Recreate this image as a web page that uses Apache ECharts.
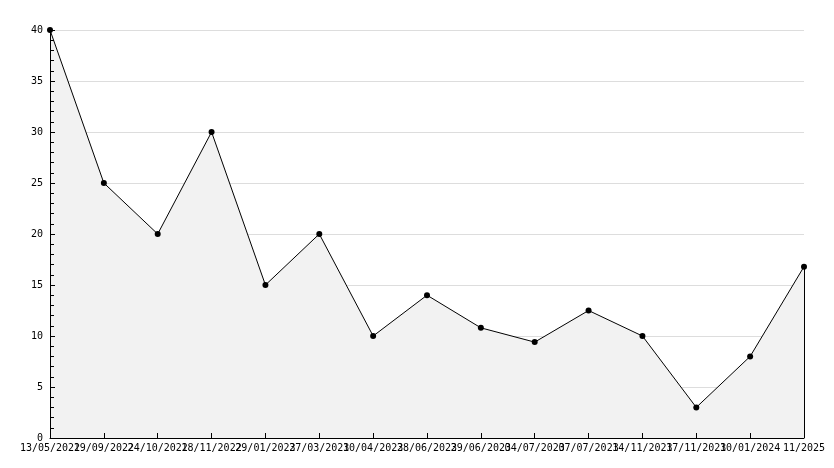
<!DOCTYPE html>
<html>
<head>
<meta charset="utf-8">
<script src="https://cdn.jsdelivr.net/npm/echarts@6/dist/echarts.min.js"></script>
<style>html,body{margin:0;padding:0;background:#fff}#c{width:834px;height:468px}</style>
</head>
<body>
<div id="c"></div>
<script>
const categories = ["13/05/2022","19/09/2022","24/10/2022","18/11/2022","29/01/2023","27/03/2023","10/04/2023","28/06/2023","29/06/2023","04/07/2023","07/07/2023","14/11/2023","17/11/2023","10/01/2024","11/2025"];
const values = [40, 25, 20, 30, 15, 20, 10, 14, 10.8, 9.4, 12.5, 10, 3, 8, 16.8];
const yTicks = { min: 0, max: 40, interval: 5 };

const chart = echarts.init(document.getElementById('c'), null, {renderer: 'canvas'});
const font = '"DejaVu Sans Mono", monospace';
const last = categories.length - 1;
chart.setOption({
  animation: false,
  backgroundColor: '#fff',
  grid: { left: 50, right: 30, top: 30, bottom: 30, containLabel: false },
  xAxis: {
    type: 'category',
    z: 3,
    data: categories,
    boundaryGap: false,
    axisLine: { lineStyle: { color: '#000', width: 1 } },
    axisTick: { show: true, inside: true, length: 5, lineStyle: { color: '#000' } },
    axisLabel: { interval: 0, hideOverlap: false, color: '#000', fontFamily: font, fontSize: 10, margin: 5 },
    splitLine: { show: false }
  },
  yAxis: [{
    type: 'value',
    z: 0,
    min: yTicks.min, max: yTicks.max, interval: yTicks.interval,
    axisLine: { show: false },
    axisTick: { show: false },
    axisLabel: { show: false },
    splitLine: { show: true, lineStyle: { color: '#dddddd', width: 1 } }
  }, {
    type: 'value',
    position: 'left',
    z: 3,
    min: yTicks.min, max: yTicks.max, interval: yTicks.interval,
    axisLine: { show: true, lineStyle: { color: '#000', width: 1 } },
    axisTick: { show: true, inside: true, length: 5, lineStyle: { color: '#000' } },
    minorTick: { show: true, splitNumber: 5, length: 4, lineStyle: { color: '#000' } },
    axisLabel: { color: '#000', fontFamily: font, fontSize: 10, margin: 7 },
    splitLine: { show: false }
  }],
  series: [{
    type: 'line',
    z: 1,
    yAxisIndex: 0,
    data: values,
    symbol: 'none',
    lineStyle: { width: 0 },
    areaStyle: { color: '#f2f2f2', opacity: 1 }
  }, {
    type: 'line',
    z: 4,
    yAxisIndex: 0,
    data: values,
    symbol: 'circle',
    symbolSize: 6,
    itemStyle: { color: '#000' },
    lineStyle: { color: '#000', width: 1 },
    markLine: {
      silent: true,
      symbol: 'none',
      label: { show: false },
      lineStyle: { color: '#000', width: 1, type: 'solid' },
      data: [[{ coord: [last, values[last]] }, { coord: [last, 0] }]]
    }
  }]
});
</script>
</body>
</html>
